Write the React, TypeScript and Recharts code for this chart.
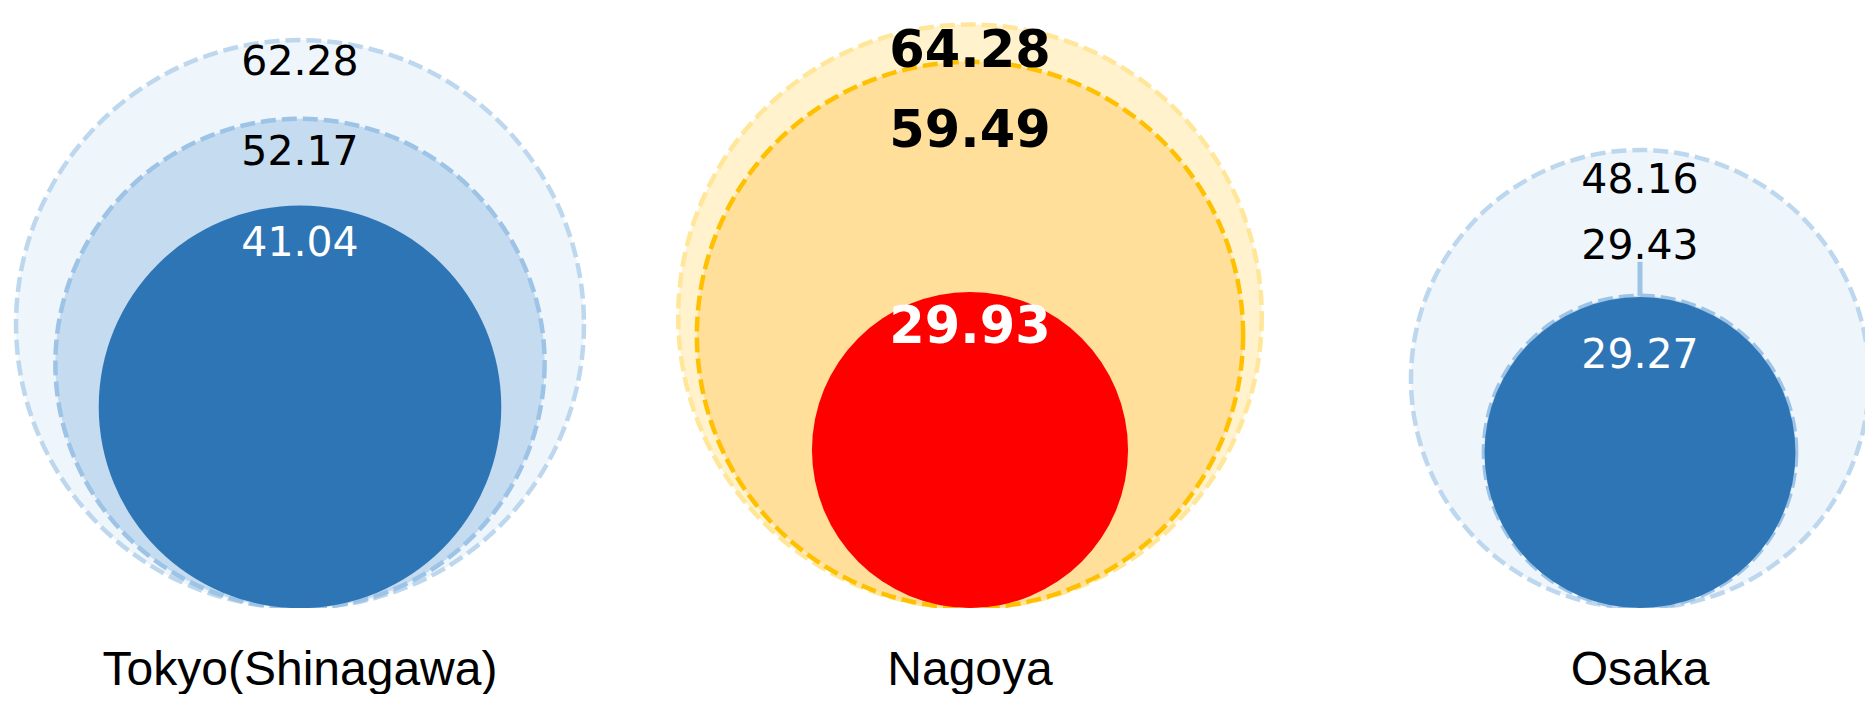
import React from 'react';
import { ScatterChart, Scatter, XAxis, YAxis } from 'recharts';

// ---- data ----
const cities = ['Tokyo(Shinagawa)', 'Nagoya', 'Osaka'];
const outerValues = [62.28, 64.28, 48.16];
const middleValues = [52.17, 59.49, 29.43];
const innerValues = [41.04, 29.93, 29.27];
const cityTicks = [0, 1, 2];

// ---- layout / style ----
const W = 1865;
const H = 694;
const MARGIN = { top: 0, right: 233, bottom: 0, left: 292 };
const XAXIS_H = 94;
const PLOT_BOTTOM = H - MARGIN.bottom - XAXIS_H;
const Y_DOMAIN: [number, number] = [-10.67, 66.4];

type Layer = 'outer' | 'middle' | 'inner';

const BLUE = {
  outer: { fill: '#EEF5FB', stroke: '#BDD7EE' },
  middle: { fill: '#C5DCF0', stroke: '#9DC3E6' },
  inner: { fill: '#2E75B6', stroke: '' },
};
const GOLD = {
  outer: { fill: '#FFF2CC', stroke: '#FFE699' },
  middle: { fill: '#FFDF9A', stroke: '#FFC000' },
  inner: { fill: '#FF0000', stroke: '' },
};
const CITY_THEME = [BLUE, GOLD, BLUE];
const CITY_BOLD = [false, true, false];
const LABEL_OFFSET: Record<Layer, number[]> = {
  outer: [35, 42, 43],
  middle: [46, 85, -37],
  inner: [51, 51, 71],
};

const build = (vals: number[]) => vals.map((v, i) => ({ x: i, y: v, idx: i }));
const outerData = build(outerValues);
const middleData = build(middleValues);
const innerData = build(innerValues);

const makeCircle = (layer: Layer) => (props: any) => {
  const { cx, cy, payload } = props;
  if (cx == null || cy == null) return <g />;
  const r = (PLOT_BOTTOM - cy) / 2;
  const st = CITY_THEME[payload.idx][layer];
  return (
    <circle
      cx={cx}
      cy={PLOT_BOTTOM - r}
      r={r}
      fill={st.fill}
      stroke={st.stroke || 'none'}
      strokeWidth={st.stroke ? 4.5 : 0}
      strokeDasharray={st.stroke ? '15 6' : undefined}
    />
  );
};

const makeLabel = (layer: Layer) => (props: any) => {
  const { cx, cy, payload } = props;
  if (cx == null || cy == null) return <g />;
  const i = payload.idx;
  const off = LABEL_OFFSET[layer][i];
  const bold = CITY_BOLD[i];
  const color = layer === 'inner' ? '#FFFFFF' : '#000000';
  return (
    <g>
      {off < 0 && (
        <line x1={cx} x2={cx} y1={cy} y2={cy - 34} stroke="#9DC3E6" strokeWidth={5} />
      )}
      <text
        x={cx}
        y={cy + off}
        textAnchor="middle"
        fontFamily="'DejaVu Sans', Verdana, sans-serif"
        fontSize={bold ? 51 : 41}
        fontWeight={bold ? 700 : 400}
        fill={color}
      >
        {Number(payload.y).toFixed(2)}
      </text>
    </g>
  );
};

const CityTick = (props: any) => {
  const { x, y, payload } = props;
  return (
    <text
      x={x}
      y={y}
      dy={77}
      textAnchor="middle"
      fontFamily="'Liberation Sans', Arial, sans-serif"
      fontSize={48}
      fill="#000000"
    >
      {cities[payload.value]}
    </text>
  );
};

export default function App() {
  return (
    <div style={{ width: W, height: H, marginBottom: -8 }}>
      <ScatterChart width={W} height={H} margin={MARGIN}>
        <XAxis
          type="number"
          dataKey="x"
          domain={[0, 2]}
          ticks={cityTicks}
          interval={0}
          height={XAXIS_H}
          axisLine={false}
          tickLine={false}
          tickSize={0}
          tickMargin={0}
          tick={<CityTick />}
        />
        <YAxis type="number" dataKey="y" domain={Y_DOMAIN} hide width={0} allowDataOverflow />
        <Scatter data={outerData} shape={makeCircle('outer')} isAnimationActive={false} />
        <Scatter data={middleData} shape={makeCircle('middle')} isAnimationActive={false} />
        <Scatter data={innerData} shape={makeCircle('inner')} isAnimationActive={false} />
        <Scatter data={outerData} shape={makeLabel('outer')} isAnimationActive={false} />
        <Scatter data={middleData} shape={makeLabel('middle')} isAnimationActive={false} />
        <Scatter data={innerData} shape={makeLabel('inner')} isAnimationActive={false} />
      </ScatterChart>
    </div>
  );
}
